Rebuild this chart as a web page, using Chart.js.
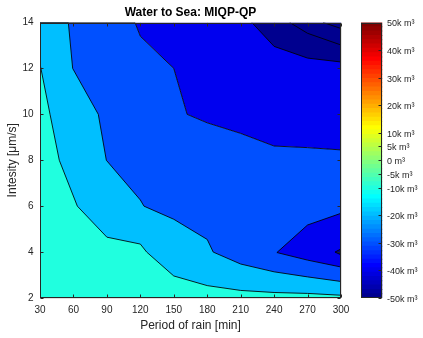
<!DOCTYPE html>
<html>
<head>
<meta charset="utf-8">
<title>Water to Sea: MIQP-QP</title>
<script src="https://cdn.jsdelivr.net/npm/chart.js@4.4.0/dist/chart.umd.min.js"></script>
<style>
  html, body { margin: 0; padding: 0; background: #ffffff; }
  #wrap { position: relative; width: 423px; height: 338px; }
  #contourChart { position: absolute; left: 0; top: 0; }
  #colorbarChart { position: absolute; left: 350px; top: 0; }
</style>
</head>
<body>
<div id="wrap">
  <canvas id="contourChart" width="423" height="338"></canvas>
  <canvas id="colorbarChart" width="73" height="338"></canvas>
</div>
<script>
// Axis ticks
const periodTicks = [30, 60, 90, 120, 150, 180, 210, 240, 270, 300];
const intensityTicks = [2, 4, 6, 8, 10, 12, 14];
const colorbarTicks = [-50000, -40000, -30000, -20000, -10000, -5000, 0, 5000, 10000, 20000, 30000, 40000, 50000];
const colorLimits = [-50000, 50000];

// Contour lines as [period (min), intensity (um/s)] pairs
const contour10k = [[30, 12.2], [39, 10], [47.3, 8], [63.5, 6], [90, 4.65], [120, 4.35], [125.7, 4],
  [150, 2.96], [180, 2.54], [210, 2.33], [240, 2.24], [270, 2.2], [300, 2.12]];
const contour20k = [[30, 14], [55.4, 14], [59.3, 12], [82.3, 10], [89.5, 8], [120, 6.27], [123.3, 6],
  [150, 5.43], [180, 4.55], [185.4, 4], [210, 3.48], [240, 3.14], [270, 2.92], [300, 2.72]];
const contour30k = [[30, 14], [115.2, 14], [120, 13.4], [150, 12], [162, 10], [180, 9.63], [210, 9.17],
  [240, 8.62], [270, 8.55], [300, 8.45]];
const contour30kIsland = [[242.5, 3.98], [270, 5.18], [300, 5.69], [300, 3.35], [270, 3.65], [242.5, 3.98]];
const contour40k = [[220, 14], [240, 12.96], [270, 12.45], [300, 12.28]];
const contour40kIsland = [[294.6, 4.0], [300, 4.14], [300, 3.88], [294.6, 4.0]];
const contour50k = [[254, 14], [270, 13.53], [300, 13.02]];
const contour60k = [[284, 14], [300, 13.74]];

const FONT = "'Liberation Sans', Arial, Helvetica, sans-serif";
const AXIS_COLOR = '#262626';
const GRID_COLOR = 'rgba(38, 38, 38, 0.15)';
const LINE_COLOR = 'rgba(0, 0, 0, 0.85)';

// MATLAB jet(64) colormap, index 1..64
function jetEntry(i) {
    let r = 0, g = 0, b = 0;
    if (i >= 25 && i <= 40) r = (i - 24) / 16;
    else if (i > 40 && i < 56) r = 1;
    else if (i >= 56) r = (72 - i) / 16;
    if (i >= 9 && i <= 24) g = (i - 8) / 16;
    else if (i > 24 && i < 40) g = 1;
    else if (i >= 40 && i <= 55) g = (56 - i) / 16;
    if (i <= 8) b = (i + 8) / 16;
    else if (i <= 23) b = 1;
    else if (i <= 39) b = (40 - i) / 16;
    return `rgb(${Math.round(r * 255)}, ${Math.round(g * 255)}, ${Math.round(b * 255)})`;
}

// colour of a level value, clamped to the colour limits
function jetColor(value) {
    const [cmin, cmax] = colorLimits;
    let idx = Math.floor((value - cmin) / (cmax - cmin) * 64) + 1;
    idx = Math.min(64, Math.max(1, idx));
    return jetEntry(idx);
}

function contourDataset(points, level, fill, order, drawLine = true) {
    return {
        data: points.map(([x, y]) => ({ x, y })),
        backgroundColor: level === null ? 'transparent' : jetColor(level),
        borderColor: drawLine ? LINE_COLOR : 'transparent',
        borderWidth: drawLine ? 1 : 0,
        fill: fill,
        order: order,
        pointRadius: 0,
        tension: 0
    };
}

// box around the plot area, with MATLAB style inward tick marks
const plotFrame = {
    id: 'plotFrame',
    afterDraw(chart, args, opts) {
        const { ctx, chartArea } = chart;
        const left = Math.round(chartArea.left) + 0.5;
        const top = Math.round(chartArea.top) + 0.5;
        const right = Math.round(chartArea.right) - 0.5;
        const bottom = Math.round(chartArea.bottom) - 0.5;
        const len = opts.tickLength || 0;
        ctx.save();
        ctx.strokeStyle = opts.color;
        ctx.lineWidth = 1;
        ctx.strokeRect(left, top, right - left, bottom - top);
        ctx.beginPath();
        (opts.xTicks ? chart.scales.x.ticks : []).forEach(t => {
            const px = Math.round(chart.scales.x.getPixelForValue(t.value)) + 0.5;
            ctx.moveTo(px, bottom); ctx.lineTo(px, bottom - len);
            ctx.moveTo(px, top); ctx.lineTo(px, top + len);
        });
        (opts.yTicks ? chart.scales.y.ticks : []).forEach(t => {
            const py = Math.round(chart.scales.y.getPixelForValue(t.value)) + 0.5;
            if (opts.leftTicks) { ctx.moveTo(left, py); ctx.lineTo(left + len, py); }
            ctx.moveTo(right, py); ctx.lineTo(right - len, py);
        });
        ctx.stroke();
        ctx.restore();
    }
};

new Chart(document.getElementById('contourChart'), {
    type: 'line',
    data: {
        datasets: [
            contourDataset(contour30k, -40000, 'end', 9, false),
            contourDataset(contour30k, -30000, 'start', 8),
            contourDataset(contour20k, -20000, 'start', 7),
            contourDataset(contour10k, -10000, 'start', 6),
            contourDataset(contour40k, -50000, 'end', 5),
            contourDataset(contour50k, null, false, 4),
            contourDataset(contour60k, null, false, 3),
            contourDataset(contour30kIsland, -40000, 'shape', 2),
            contourDataset(contour40kIsland, -50000, 'shape', 1)
        ]
    },
    options: {
        responsive: false,
        animation: false,
        events: [],
        layout: { padding: { left: 0, right: 82, top: 0, bottom: 0 } },
        plugins: {
            legend: { display: false },
            tooltip: { enabled: false },
            title: {
                display: true,
                text: 'Water to Sea: MIQP-QP',
                fullSize: false,
                color: '#000000',
                font: { family: FONT, size: 12, weight: 'bold' },
                padding: { top: 5, bottom: 3.1 }
            },
            plotFrame: { color: AXIS_COLOR, tickLength: 3, xTicks: true, yTicks: true, leftTicks: true }
        },
        scales: {
            x: {
                type: 'linear',
                min: 30,
                max: 300,
                z: 1,
                afterBuildTicks: (scale) => { scale.ticks = periodTicks.map(value => ({ value })); },
                afterFit: (scale) => { scale.height = 40; },
                grid: { color: GRID_COLOR, drawTicks: false },
                border: { display: false },
                ticks: { color: AXIS_COLOR, font: { family: FONT, size: 10 }, padding: 6, maxRotation: 0, autoSkip: false },
                title: {
                    display: true,
                    text: 'Period of rain [min]',
                    color: AXIS_COLOR,
                    font: { family: FONT, size: 12 },
                    padding: { top: 0, bottom: 5 }
                }
            },
            y: {
                type: 'linear',
                min: 2,
                max: 14,
                z: 1,
                afterBuildTicks: (scale) => { scale.ticks = intensityTicks.map(value => ({ value })); },
                afterFit: (scale) => { scale.width = 40; },
                grid: { color: GRID_COLOR, drawTicks: false },
                border: { display: false },
                ticks: { color: AXIS_COLOR, font: { family: FONT, size: 10 }, padding: 6.5, autoSkip: false },
                title: {
                    display: true,
                    text: 'Intesity [μm/s]',
                    color: AXIS_COLOR,
                    font: { family: FONT, size: 12 },
                    padding: { top: 5.6, bottom: 0 }
                }
            }
        }
    },
    plugins: [plotFrame]
});

// Colorbar: one floating bar per colormap entry
const [cmin, cmax] = colorLimits;
const step = (cmax - cmin) / 64;
const colorbarDatasets = [];
for (let i = 0; i < 64; i++) {
    colorbarDatasets.push({
        data: [[cmin + i * step, cmin + (i + 1) * step]],
        backgroundColor: jetEntry(i + 1),
        borderWidth: 0,
        grouped: false,
        barPercentage: 1,
        categoryPercentage: 1,
        inflateAmount: 0.5
    });
}

new Chart(document.getElementById('colorbarChart'), {
    type: 'bar',
    data: { labels: [''], datasets: colorbarDatasets },
    options: {
        responsive: false,
        animation: false,
        events: [],
        layout: { padding: { left: 11, right: 0, top: 22.5, bottom: 40 } },
        plugins: {
            legend: { display: false },
            tooltip: { enabled: false },
            plotFrame: { color: AXIS_COLOR, tickLength: 3, yTicks: true }
        },
        scales: {
            x: { display: false },
            y: {
                position: 'right',
                min: cmin,
                max: cmax,
                afterBuildTicks: (scale) => { scale.ticks = colorbarTicks.map(value => ({ value })); },
                afterFit: (scale) => { scale.width = 40.7; },
                grid: { display: false, drawTicks: false },
                border: { display: false },
                ticks: {
                    color: AXIS_COLOR,
                    font: { family: FONT, size: 9 },
                    padding: 4.7,
                    labelOffset: 1.5,
                    autoSkip: false,
                    callback: (value) => (value === 0 ? '0' : (value / 1000) + 'k') + ' m³'
                }
            }
        }
    },
    plugins: [plotFrame]
});
</script>
</body>
</html>
